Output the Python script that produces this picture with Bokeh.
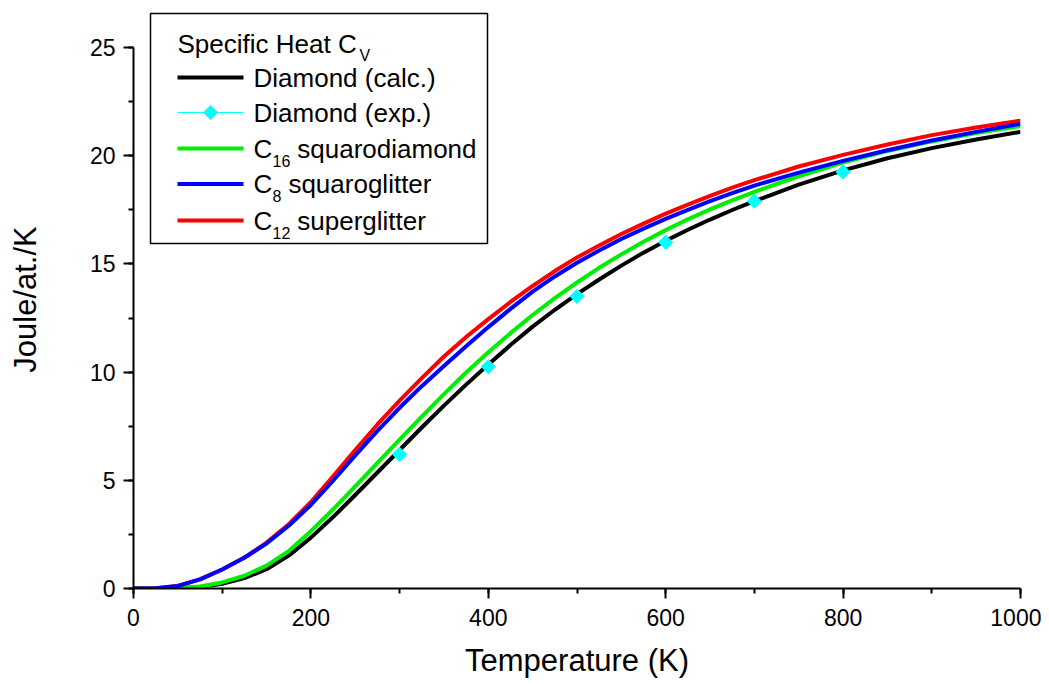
import math
from bokeh.plotting import figure
from bokeh.models import Range1d, SingleIntervalTicker, BoxAnnotation, Label
from bokeh.embed import file_html
from bokeh.resources import INLINE

# ---------------- data ----------------
T = [0, 25, 50, 75, 100, 125, 150, 175, 200, 225, 250, 275, 300, 325, 350, 375,
     400, 425, 450, 475, 500, 525, 550, 575, 600, 625, 650, 675, 700,
     750, 800, 850, 900, 950, 1000]

cv_diamond_calc = [0.0, 0.0, 0.01, 0.07, 0.22, 0.48, 0.89, 1.52, 2.35, 3.30, 4.32,
                   5.36, 6.40, 7.44, 8.45, 9.42, 10.35, 11.25, 12.10, 12.88, 13.60,
                   14.28, 14.92, 15.52, 16.07, 16.58, 17.05, 17.49, 17.90,
                   18.66, 19.32, 19.88, 20.35, 20.75, 21.10]
cv_c16_squarodiamond = [0.0, 0.0, 0.02, 0.09, 0.28, 0.59, 1.06, 1.73, 2.65, 3.66,
                        4.72, 5.80, 6.88, 7.94, 8.98, 9.98, 10.92, 11.80, 12.64,
                        13.42, 14.14, 14.82, 15.44, 16.02, 16.56, 17.06, 17.52,
                        17.94, 18.33, 19.05, 19.68, 20.22, 20.66, 21.05, 21.37]
cv_c8_squaroglitter = [0.0, 0.01, 0.12, 0.42, 0.88, 1.42, 2.08, 2.90, 3.86, 4.98,
                       6.15, 7.28, 8.35, 9.35, 10.28, 11.19, 12.08, 12.92, 13.72,
                       14.42, 15.05, 15.62, 16.15, 16.63, 17.08, 17.50, 17.90,
                       18.27, 18.62, 19.22, 19.76, 20.25, 20.70, 21.10, 21.47]
cv_c12_superglitter = [0.0, 0.01, 0.12, 0.42, 0.88, 1.43, 2.12, 2.97, 4.00, 5.18,
                       6.40, 7.58, 8.68, 9.72, 10.72, 11.62, 12.45, 13.24, 13.98,
                       14.67, 15.30, 15.85, 16.38, 16.86, 17.32, 17.74, 18.14,
                       18.52, 18.87, 19.50, 20.04, 20.52, 20.95, 21.30, 21.62]

T_exp = [300, 400, 500, 600, 700, 800]
cv_diamond_exp = [6.20, 10.25, 13.50, 16.00, 17.90, 19.25]

legend_title = "Specific Heat C"
legend_title_sub = "V"

# ---------------- layout ----------------
FRAME_W, FRAME_H = 887, 578
PX_PER_Y = 21.64
YMAX = FRAME_H / PX_PER_Y
IMG_LEFT, IMG_BOTTOM = 133, 588  # frame position in picture pixels

def dx(px):
    return (px - IMG_LEFT) / FRAME_W * 1000.0

def dy(py):
    return (IMG_BOTTOM - py) / PX_PER_Y

FONT = "Liberation Sans"

p = figure(frame_width=FRAME_W, frame_height=FRAME_H,
           x_range=Range1d(0, 1000), y_range=Range1d(0, YMAX),
           output_backend="svg", toolbar_location=None,
           min_border_left=133, min_border_right=21,
           min_border_top=10, min_border_bottom=86)
p.outline_line_color = None
p.xgrid.visible = False
p.ygrid.visible = False
p.background_fill_color = "white"
p.border_fill_color = "white"

p.xaxis.ticker = SingleIntervalTicker(interval=200, num_minor_ticks=2)
p.yaxis.ticker = SingleIntervalTicker(interval=5, num_minor_ticks=2)
p.yaxis.bounds = (0, 25)
p.xaxis.axis_label = "Temperature (K)"
p.yaxis.axis_label = "Joule/at./K"
for ax in (p.xaxis, p.yaxis):
    ax.axis_line_width = 2
    ax.major_tick_line_width = 2
    ax.minor_tick_line_width = 2
    ax.major_tick_out = 10
    ax.major_tick_in = 0
    ax.minor_tick_out = 5
    ax.minor_tick_in = 0
    ax.major_label_text_font = FONT
    ax.major_label_text_font_size = "23px"
    ax.major_label_text_color = "black"
    ax.axis_label_text_font = FONT
    ax.axis_label_text_font_size = "31px"
    ax.axis_label_text_font_style = "normal"
    ax.axis_label_text_color = "black"
p.xaxis.major_label_standoff = 10
p.yaxis.major_label_standoff = 8
p.xaxis.axis_label_standoff = 14
p.yaxis.axis_label_standoff = 44

LW = 4
p.line(T, cv_diamond_calc, line_color="black", line_width=LW, line_join="round")
p.line(T, cv_c16_squarodiamond, line_color="#00ee00", line_width=LW, line_join="round")
p.line(T, cv_c12_superglitter, line_color="red", line_width=LW, line_join="round")
p.line(T, cv_c8_squaroglitter, line_color="blue", line_width=LW, line_join="round")
p.scatter(T_exp, cv_diamond_exp, marker="square", angle=math.pi / 4, size=10,
          fill_color="cyan", line_color="cyan")

# ---------------- legend (drawn by hand for subscripts) ----------------
p.add_layout(BoxAnnotation(left=dx(150), right=dx(487), top=dy(13), bottom=dy(243),
                           fill_color="white", fill_alpha=1.0, level="underlay",
                           line_color="black", line_width=1.5, line_alpha=1.0))

LF = "26px"
SF = "16px"
TEXT_SHIFT = 9  # Label draws text a little lower than its anchor

def lab(px, py, text, size=LF):
    p.add_layout(Label(x=dx(px), y=dy(py - TEXT_SHIFT), text=text, text_font=FONT,
                       text_font_size=size, text_color="black",
                       text_baseline="alphabetic", text_align="left"))

lab(177, 52, legend_title)
lab(359, 64, legend_title_sub, SF)

rows = [
    ("black", 4, None, "Diamond (calc.)", None),
    ("cyan", 1, "exp", "Diamond (exp.)", None),
    ("#00ee00", 4, None, "C", ("16", "squarodiamond")),
    ("blue", 4, None, "C", ("8", "squaroglitter")),
    ("red", 4, None, "C", ("12", "superglitter")),
]
line_y = [77, 112, 148, 183.5, 220]
for (col, lw, kind, txt, sub), ly in zip(rows, line_y):
    p.line([dx(177), dx(243)], [dy(ly), dy(ly)], line_color=col, line_width=lw)
    if kind == "exp":
        p.scatter([dx(210)], [dy(ly)], marker="square", angle=math.pi / 4, size=10,
                  fill_color="cyan", line_color="cyan")
    base = ly + 9
    lab(253, base, txt)
    if sub is not None:
        lab(272, base + 12, sub[0], SF)
        rest_x = 272 + 8.9 * len(sub[0]) + 7
        lab(rest_x, base, sub[1])

html = file_html(p, INLINE)
open("out.html", "w").write(html)
